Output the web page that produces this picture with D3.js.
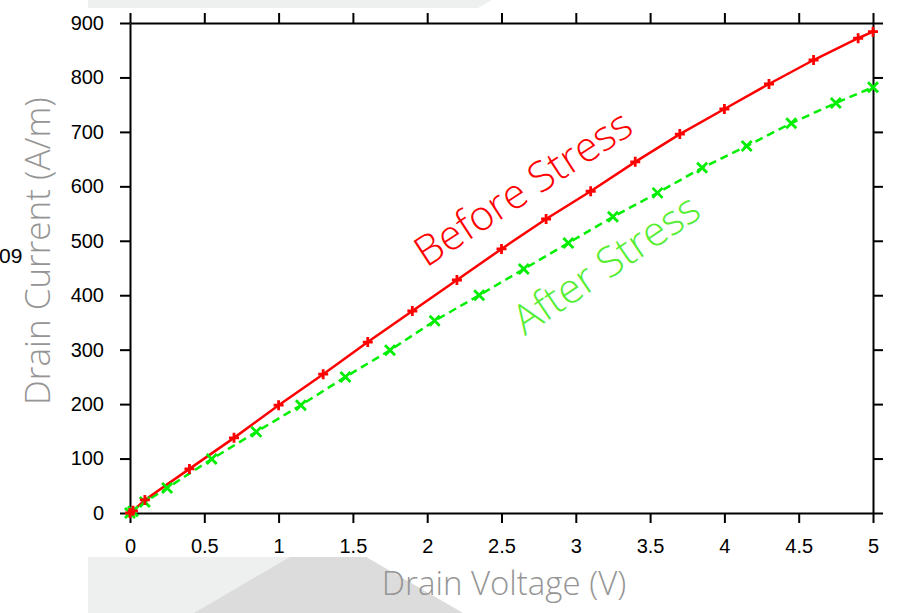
<!DOCTYPE html>
<html>
<head>
<meta charset="utf-8">
<script src="https://cdn.jsdelivr.net/npm/d3@7"></script>
<style>
  html, body { margin: 0; padding: 0; background: #fff; }
  svg { display: block; }
  .tick text { font-family: "Liberation Sans", Arial, sans-serif; font-size: 20px; fill: #000; }
</style>
</head>
<body>
<svg id="chart" width="904" height="613"></svg>
<script>
// Drain current vs drain voltage, before and after stress
const beforeVoltage = [0, 0.02, 0.1, 0.4, 0.7, 1.0, 1.3, 1.6, 1.9, 2.2, 2.5, 2.8, 3.1, 3.4, 3.7, 4.0, 4.3, 4.6, 4.9, 5.0];
const beforeCurrent = [0, 4, 24, 81, 138, 198, 255, 314, 371, 428, 485, 540, 591, 645, 696, 742, 788, 832, 872, 884];

const afterVoltage = [0, 0.02, 0.1, 0.25, 0.55, 0.85, 1.15, 1.45, 1.75, 2.05, 2.35, 2.65, 2.95, 3.25, 3.55, 3.85, 4.15, 4.45, 4.75, 5.0];
const afterCurrent = [0, 3, 20, 46, 99, 149, 198, 250, 299, 353, 400, 448, 496, 544, 588, 634, 674, 716, 753, 782];

const xTicks = [0, 0.5, 1, 1.5, 2, 2.5, 3, 3.5, 4, 4.5, 5];
const yTicks = [0, 100, 200, 300, 400, 500, 600, 700, 800, 900];

const xTitle = "Drain Voltage (V)";
const yTitle = "Drain Current (A/m)";
const beforeLabel = "Before Stress";
const afterLabel = "After Stress";

const svg = d3.select("#chart");

// faint decorative panels behind the chart
const deco = svg.append("g");
deco.append("polygon").attr("points", "88,0 492,0 478,8 88,8").attr("fill", "#eef0f0");
deco.append("polygon").attr("points", "88,557 366,557 463,613 88,613").attr("fill", "#eef0f0");
deco.append("polygon").attr("points", "290,557 366,557 463,613 194,613").attr("fill", "#dcdcdc");

const plotLeft = 130, plotRight = 873, plotTop = 23, plotBottom = 513;
const x = d3.scaleLinear().domain([0, 5]).range([plotLeft, plotRight]);
const y = d3.scaleLinear().domain([0, 900]).range([plotBottom, plotTop]);

function styleAxis(g) {
  g.select(".domain").attr("stroke", "#000").attr("stroke-width", 2);
  g.selectAll(".tick line").attr("stroke", "#000").attr("stroke-width", 2);
}

svg.append("g").attr("transform", `translate(0,${plotBottom})`)
  .call(d3.axisBottom(x).tickValues(xTicks).tickFormat(d3.format("~g")).tickSize(10).tickSizeOuter(0).tickPadding(16))
  .call(styleAxis).call(g => g.selectAll("text").attr("dy", "0.71em"));
svg.append("g").attr("transform", `translate(0,${plotTop})`)
  .call(d3.axisTop(x).tickValues(xTicks).tickFormat("").tickSize(10).tickSizeOuter(0))
  .call(styleAxis);
svg.append("g").attr("transform", `translate(${plotLeft},0)`)
  .call(d3.axisLeft(y).tickValues(yTicks).tickSize(10).tickSizeOuter(0).tickPadding(16))
  .call(styleAxis);
svg.append("g").attr("transform", `translate(${plotRight},0)`)
  .call(d3.axisRight(y).tickValues(yTicks).tickFormat("").tickSize(10).tickSizeOuter(0))
  .call(styleAxis);

// series
const beforeData = beforeVoltage.map((v, i) => [v, beforeCurrent[i]]);
const afterData = afterVoltage.map((v, i) => [v, afterCurrent[i]]);
const line = d3.line().x(d => x(d[0])).y(d => y(d[1]));

svg.append("path").datum(afterData).attr("d", line)
  .attr("fill", "none").attr("stroke", "#00ee00").attr("stroke-width", 2.5)
  .attr("stroke-dasharray", "8,5");
svg.append("path").datum(beforeData).attr("d", line)
  .attr("fill", "none").attr("stroke", "#ff0000").attr("stroke-width", 2.5);

const m = 5;
svg.append("g").selectAll("path").data(afterData).join("path")
  .attr("d", d => `M${x(d[0]) - m},${y(d[1]) - m}L${x(d[0]) + m},${y(d[1]) + m}M${x(d[0]) - m},${y(d[1]) + m}L${x(d[0]) + m},${y(d[1]) - m}`)
  .attr("stroke", "#00ee00").attr("stroke-width", 2.8).attr("fill", "none");
svg.append("g").selectAll("path").data(beforeData).join("path")
  .attr("d", d => `M${x(d[0]) - m},${y(d[1])}L${x(d[0]) + m},${y(d[1])}M${x(d[0])},${y(d[1]) - m}L${x(d[0])},${y(d[1]) + m}`)
  .attr("stroke", "#ff0000").attr("stroke-width", 2.8).attr("fill", "none");

// series labels along the curves
svg.append("text").text(beforeLabel)
  .attr("transform", "translate(523,188) rotate(-33)")
  .attr("text-anchor", "middle").attr("dy", "0.35em")
  .attr("font-family", "'Open Sans', sans-serif").attr("font-weight", 300)
  .attr("font-size", 41.5).attr("fill", "#ff0000");
svg.append("text").text(afterLabel)
  .attr("transform", "translate(606,264) rotate(-34)")
  .attr("text-anchor", "middle").attr("dy", "0.35em")
  .attr("font-family", "'Open Sans', sans-serif").attr("font-weight", 300)
  .attr("font-size", 41.5).attr("fill", "#55ee33");

// axis titles
svg.append("text").text(xTitle)
  .attr("x", 504).attr("y", 595).attr("text-anchor", "middle")
  .attr("font-family", "'Open Sans', sans-serif").attr("font-weight", 300)
  .attr("font-size", 33).attr("fill", "#959595");
svg.append("text").text(yTitle)
  .attr("transform", "translate(50,251) rotate(-90)").attr("text-anchor", "middle")
  .attr("font-family", "'Open Sans', sans-serif").attr("font-weight", 300)
  .attr("font-size", 35).attr("fill", "#959595");

// exponent fragment at the left edge
svg.append("text").text("09")
  .attr("x", -1).attr("y", 263)
  .attr("font-family", "'Liberation Sans', Arial, sans-serif")
  .attr("font-size", 21).attr("fill", "#000");
</script>
</body>
</html>
